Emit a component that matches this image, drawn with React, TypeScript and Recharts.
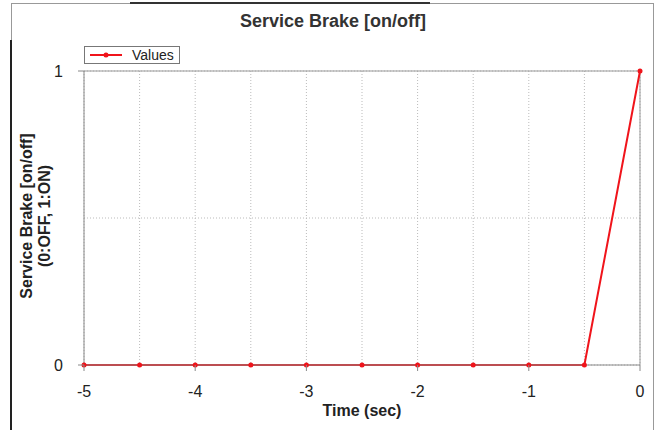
import React from "react";
import {
  CartesianGrid,
  Line,
  LineChart,
  ReferenceLine,
  XAxis,
  YAxis,
} from "recharts";

const times = [-5, -4.5, -4, -3.5, -3, -2.5, -2, -1.5, -1, -0.5, 0];
const values = [0, 0, 0, 0, 0, 0, 0, 0, 0, 0, 1];
const xTicks = [-5, -4.5, -4, -3.5, -3, -2.5, -2, -1.5, -1, -0.5, 0];
const yTicks = [0, 0.5, 1];

const data = times.map((t, i) => ({ time: t, value: values[i] }));

const font = "Arial, 'Liberation Sans', sans-serif";
const red = "#f0141b";

function XTick(props: any) {
  const { x, y, payload } = props;
  const v = payload.value;
  if (!Number.isInteger(v)) return null;
  return (
    <g>
      <line x1={x} x2={x} y1={y - 8} y2={y - 2} stroke="#888" />
      <text x={x} y={y + 24} textAnchor="middle" fontSize={16} fill="#222" fontFamily={font}>
        {v}
      </text>
    </g>
  );
}

function YTick(props: any) {
  const { x, y, payload } = props;
  const v = payload.value;
  if (!Number.isInteger(v)) return null;
  return (
    <g>
      <line x1={x + 2} x2={x + 8} y1={y} y2={y} stroke="#888" />
      <text x={x - 13} y={y + 6} textAnchor="end" fontSize={16} fill="#222" fontFamily={font}>
        {v}
      </text>
    </g>
  );
}

function YLabel() {
  const cy = 216;
  return (
    <g fontFamily={font} fontWeight="bold" fontSize={16} fill="#222">
      <text x={27} y={cy} textAnchor="middle" transform={`rotate(-90 27 ${cy})`} dy={5}>
        Service Brake [on/off]
      </text>
      <text x={45} y={cy} textAnchor="middle" transform={`rotate(-90 45 ${cy})`} dy={5}>
        (0:OFF, 1:ON)
      </text>
    </g>
  );
}

function XLabel() {
  return (
    <text x={362} y={416} textAnchor="middle" fontFamily={font} fontWeight="bold" fontSize={16} fill="#222">
      Time (sec)
    </text>
  );
}

export default function App() {
  return (
    <div style={{ position: "absolute", left: 0, top: 0, width: 659, height: 430, background: "#fff", overflow: "hidden" }}>
      <div style={{ position: "absolute", left: 11, top: 3, width: 641, height: 440, border: "1px solid #999" }} />
      <div style={{ position: "absolute", left: 10, top: 40, width: 2, height: 400, background: "#222" }} />
      <div style={{ position: "absolute", left: 130, top: 2, width: 300, height: 1.5, background: "#333" }} />
      <div
        style={{
          position: "absolute",
          left: 0,
          top: 11,
          width: 666,
          textAlign: "center",
          fontFamily: font,
          fontWeight: "bold",
          fontSize: 18,
          color: "#333",
        }}
      >
        Service Brake [on/off]
      </div>
      <div
        style={{
          position: "absolute",
          left: 84,
          top: 46,
          width: 94,
          height: 16,
          border: "1px solid #777",
          fontFamily: font,
          fontSize: 14,
          color: "#222",
          display: "flex",
          alignItems: "center",
          background: "#fff",
        }}
      >
        <svg width={36} height={16} style={{ marginLeft: 3 }}>
          <line x1={2} x2={34} y1={8} y2={8} stroke={red} strokeWidth={2} />
          <circle cx={18} cy={8} r={2.5} fill={red} />
        </svg>
        <span style={{ marginLeft: 8 }}>Values</span>
      </div>
      <div style={{ position: "absolute", left: 0, top: 0 }}>
        <LineChart width={659} height={430} data={data} margin={{ top: 71, right: 19, bottom: 35, left: 0 }}>
          <CartesianGrid stroke="#bbb" strokeDasharray="1 2" />
          <XAxis
            dataKey="time"
            type="number"
            domain={[-5, 0]}
            ticks={xTicks}
            interval={0}
            height={30}
            axisLine={{ stroke: "#888" }}
            tickLine={false}
            tick={<XTick />}
            label={{ content: <XLabel /> }}
          />
          <YAxis
            type="number"
            domain={[0, 1]}
            ticks={yTicks}
            interval={0}
            width={84}
            axisLine={{ stroke: "#888" }}
            tickLine={false}
            tick={<YTick />}
            label={{ content: <YLabel /> }}
          />
          <ReferenceLine y={1} stroke="#999" />
          <ReferenceLine x={0} stroke="#999" />
          <Line
            dataKey="value"
            stroke={red}
            strokeWidth={2}
            dot={{ r: 2.5, fill: red, stroke: "none" }}
            isAnimationActive={false}
          />
        </LineChart>
      </div>
    </div>
  );
}
